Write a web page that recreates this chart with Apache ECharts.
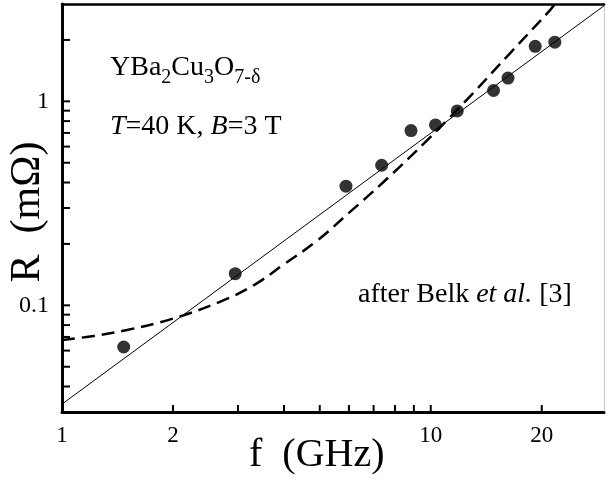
<!DOCTYPE html>
<html>
<head>
<meta charset="utf-8">
<script src="https://cdn.jsdelivr.net/npm/echarts@6/dist/echarts.min.js"></script>
<style>
  html,body{margin:0;padding:0;background:#fff;}
  #chart{width:606px;height:481px;}
</style>
</head>
<body>
<div id="chart"></div>
<script>
// measured points (f in GHz, R in mOhm)
const freq = [1.47, 2.95, 5.89, 7.36, 8.84, 10.3, 11.8, 14.8, 16.2, 19.2, 21.7]
const resist = [0.0625, 0.143, 0.384, 0.486, 0.719, 0.766, 0.897, 1.13, 1.30, 1.86, 1.95]

// solid line (straight on log-log)
const fitFreq = [1, 29.5]
const fitR = [0.0328, 2.94]

// dashed curve
const dashFreq = [1, 1.22, 1.5, 2.0, 2.68, 3.3, 3.98, 4.91, 6.04, 7.42, 9.96, 11.3, 12.8, 16.4, 21.1, 21.7]
const dashR = [0.0676, 0.0708, 0.0757, 0.0861, 0.104, 0.125, 0.158, 0.207, 0.287, 0.40, 0.665, 0.84, 1.06, 1.72, 2.81, 3.0]

// axis ranges, ticks and labels
const xMin = 1, xMax = 29.5
const yMin = 0.03, yMax = 3
const xTicks = [2, 3, 4, 5, 6, 7, 8, 9, 10, 20]
const yTicks = [0.04, 0.05, 0.06, 0.07, 0.08, 0.09, 0.1, 0.2, 0.3, 0.4, 0.5, 0.6, 0.7, 0.8, 0.9, 1, 2]
const xLabels = ['1', '2', '10', '20']
const yLabels = ['0.1', '1']

const serif = '"Liberation Serif", "Times New Roman", serif'
const chart = echarts.init(document.getElementById('chart'))

// ticks drawn inward from the axis lines
function xTickItem(params, api) {
  const p = api.coord([api.value(0), api.value(1)])
  return {type: 'line', shape: {x1: p[0], y1: p[1], x2: p[0], y2: p[1] - 7},
    style: {stroke: '#000', lineWidth: 2}}
}
function yTickItem(params, api) {
  const p = api.coord([api.value(0), api.value(1)])
  return {type: 'line', shape: {x1: p[0], y1: p[1], x2: p[0] + 8, y2: p[1]},
    style: {stroke: '#000', lineWidth: 2}}
}
function xLabelItem(params, api) {
  const p = api.coord([api.value(0), api.value(1)])
  return {type: 'text', x: p[0], y: p[1] + 24,
    style: {text: xLabels[params.dataIndex], font: '23px ' + serif, fill: '#000',
      align: 'center', verticalAlign: 'middle', textAlign: 'center', textVerticalAlign: 'middle'}}
}
function yLabelItem(params, api) {
  const p = api.coord([api.value(0), api.value(1)])
  return {type: 'text', x: p[0] - 13, y: p[1],
    style: {text: yLabels[params.dataIndex], font: '24px ' + serif, fill: '#000',
      align: 'right', verticalAlign: 'middle', textAlign: 'right', textVerticalAlign: 'middle'}}
}

const hiddenAxis = {
  splitLine: {show: false},
  axisTick: {show: false},
  axisLabel: {show: false}
}

chart.setOption({
  animation: false,
  grid: {left: 62, right: 2, top: 4, bottom: 69, outerBoundsMode: 'none'},
  xAxis: [
    Object.assign({type: 'log', logBase: 10, min: xMin, max: xMax,
      axisLine: {lineStyle: {color: '#000', width: 3}}}, hiddenAxis),
    Object.assign({type: 'log', logBase: 10, min: xMin, max: xMax, position: 'top',
      axisLine: {lineStyle: {color: '#000', width: 2.5}}}, hiddenAxis)
  ],
  yAxis: [
    Object.assign({type: 'log', logBase: 10, min: yMin, max: yMax,
      axisLine: {show: true, lineStyle: {color: '#000', width: 3}}}, hiddenAxis),
    Object.assign({type: 'log', logBase: 10, min: yMin, max: yMax, position: 'right',
      axisLine: {show: true, lineStyle: {color: '#c8c8c8', width: 1}}}, hiddenAxis)
  ],
  series: [
    {
      type: 'line',
      data: fitFreq.map((f, i) => [f, fitR[i]]),
      showSymbol: false,
      lineStyle: {color: '#000', width: 1}
    },
    {
      type: 'line',
      data: dashFreq.map((f, i) => [f, dashR[i]]),
      showSymbol: false,
      smooth: 0.4,
      lineStyle: {color: '#000', width: 2.5, type: [13, 7]}
    },
    {
      type: 'scatter',
      data: freq.map((f, i) => [f, resist[i]]),
      symbolSize: 13,
      itemStyle: {color: '#000'}
    },
    {type: 'custom', renderItem: xTickItem, data: xTicks.map(v => [v, yMin]), silent: true},
    {type: 'custom', renderItem: yTickItem, data: yTicks.map(v => [xMin, v]), silent: true},
    {type: 'custom', renderItem: xLabelItem, data: xLabels.map(s => [Number(s), yMin]), silent: true},
    {type: 'custom', renderItem: yLabelItem, data: yLabels.map(s => [xMin, Number(s)]), silent: true}
  ],
  graphic: [
    {
      type: 'text', x: 110, y: 60,
      style: {
        text: '{n|YBa}{s|2}{n|Cu}{s|3}{n|O}{s|7-δ}',
        verticalAlign: 'top',
        rich: {
          n: {fontFamily: serif, fontSize: 28, lineHeight: 28, padding: [0, 0, 6, 0], verticalAlign: 'bottom', color: '#000'},
          s: {fontFamily: serif, fontSize: 20, lineHeight: 20, verticalAlign: 'bottom', color: '#000'}
        }
      }
    },
    {
      type: 'text', x: 110, y: 113,
      style: {
        text: '{i|T}{n|=40 K, }{i|B}{n|=3 T}',
        verticalAlign: 'top',
        rich: {
          n: {fontFamily: serif, fontSize: 28, lineHeight: 28, color: '#000'},
          i: {fontFamily: serif, fontSize: 28, lineHeight: 28, fontStyle: 'italic', color: '#000'}
        }
      }
    },
    {
      type: 'text', x: 358, y: 281,
      style: {
        text: '{n|after Belk }{i|et al.}{n| [3]}',
        verticalAlign: 'top',
        rich: {
          n: {fontFamily: serif, fontSize: 28, lineHeight: 28, color: '#000'},
          i: {fontFamily: serif, fontSize: 28, lineHeight: 28, fontStyle: 'italic', color: '#000'}
        }
      }
    },
    {
      type: 'text', x: 249, y: 435,
      style: {text: 'f  (GHz)', font: '40px ' + serif, fill: '#000', verticalAlign: 'top'}
    },
    {
      type: 'text', x: 28, y: 212, rotation: Math.PI / 2,
      style: {text: 'R  (mΩ)', font: '42px ' + serif, fill: '#000', align: 'center', verticalAlign: 'middle'}
    }
  ]
})
</script>
</body>
</html>
